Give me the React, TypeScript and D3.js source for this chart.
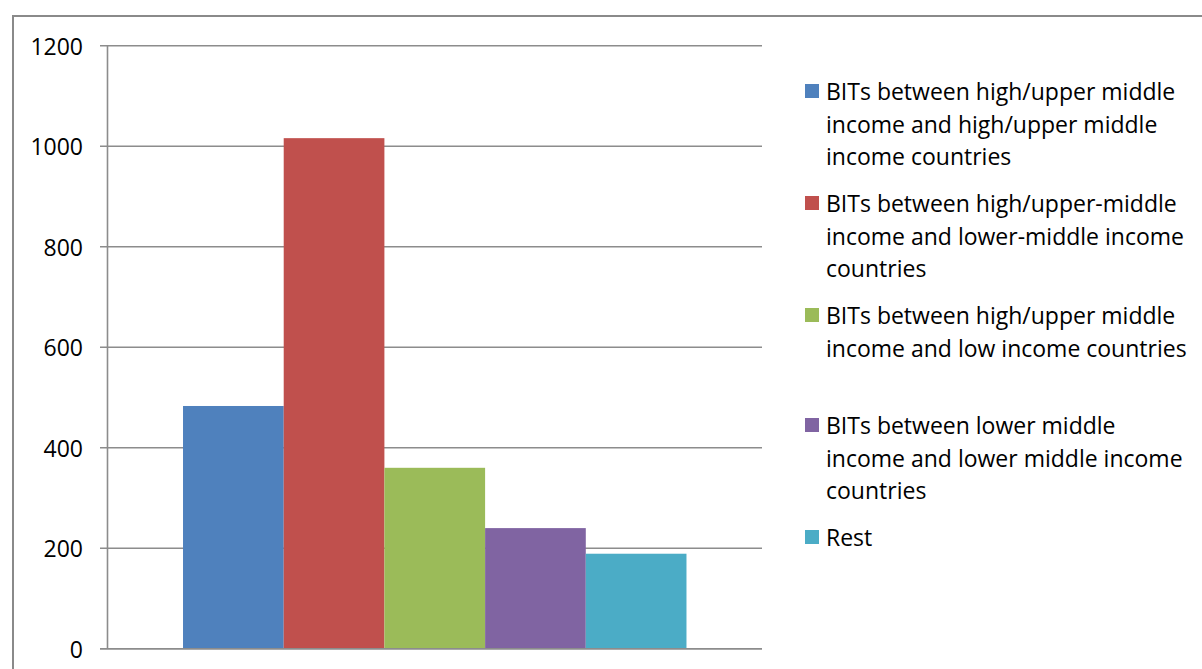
import React from "react";
import * as d3 from "d3";

const seriesNames = [
  "BITs between high/upper middle income and high/upper middle income countries",
  "BITs between high/upper-middle income and lower-middle income countries",
  "BITs between high/upper middle income and low income countries",
  "BITs between lower middle income and lower middle income countries",
  "Rest",
];
const legendLines = [
  ["BITs between high/upper middle", "income and high/upper middle", "income countries"],
  ["BITs between high/upper-middle", "income and lower-middle income", "countries"],
  ["BITs between high/upper middle", "income and low income countries"],
  ["BITs between lower middle", "income and lower middle income", "countries"],
  ["Rest"],
];
const values = [483, 1016, 360, 240, 189];
const colors = ["#4F81BD", "#C0504D", "#9BBB59", "#8064A2", "#4BACC6"];
const yTicks = [0, 200, 400, 600, 800, 1000, 1200];

const W = 1202;
const H = 669;
const FONT = "'Open Sans', 'Liberation Sans', sans-serif";

export default function App() {
  const plot = { left: 107.5, right: 762, top: 45.7, bottom: 648.7 };
  const y = d3.scaleLinear().domain([0, 1200]).range([plot.bottom, plot.top]);
  const x = d3
    .scaleBand<string>()
    .domain(seriesNames)
    .range([plot.left, plot.right])
    .paddingInner(0)
    .paddingOuter(0.75);

  const legendX = 805;
  const legendTop = 91;
  const entryStep = 112;
  const lineH = 32.7;

  return (
    <svg
      width={W}
      height={H}
      style={{ position: "fixed", left: 0, top: 0, background: "#fff" }}
      fontFamily={FONT}
    >
      <rect x={0} y={0} width={W} height={H} fill="#fff" />
      <rect x={13} y={16} width={1300} height={800} fill="none" stroke="#8a8a8a" strokeWidth={2} />
      {yTicks.map((t) => (
        <line
          key={t}
          x1={100}
          x2={plot.right}
          y1={y(t)}
          y2={y(t)}
          stroke="#8c8c8c"
          strokeWidth={1.6}
        />
      ))}
      <line x1={plot.left} x2={plot.left} y1={plot.top} y2={plot.bottom} stroke="#8c8c8c" strokeWidth={1.6} />
      {seriesNames.map((s, i) => (
        <rect
          key={s}
          x={x(s)!}
          y={y(values[i])}
          width={x.bandwidth()}
          height={y(0) - y(values[i])}
          fill={colors[i]}
        />
      ))}
      <line x1={100} x2={plot.right} y1={y(0)} y2={y(0)} stroke="#8c8c8c" strokeWidth={1.6} />
      {yTicks.map((t) => (
        <text
          key={t}
          x={83}
          y={y(t)}
          textAnchor="end"
          dominantBaseline="central"
          fontSize={23}
          fill="#000"
        >
          {t}
        </text>
      ))}
      {legendLines.map((lines, i) => {
        const cy = legendTop + i * entryStep - (i >= 3 ? 2 : 0);
        return (
          <g key={i}>
            <rect x={legendX} y={cy - 7} width={14} height={14} fill={colors[i]} />
            {lines.map((ln, j) => (
              <text
                key={j}
                x={826}
                y={cy + j * lineH}
                dominantBaseline="central"
                fontSize={23}
                fill="#000"
              >
                {ln}
              </text>
            ))}
          </g>
        );
      })}
    </svg>
  );
}
